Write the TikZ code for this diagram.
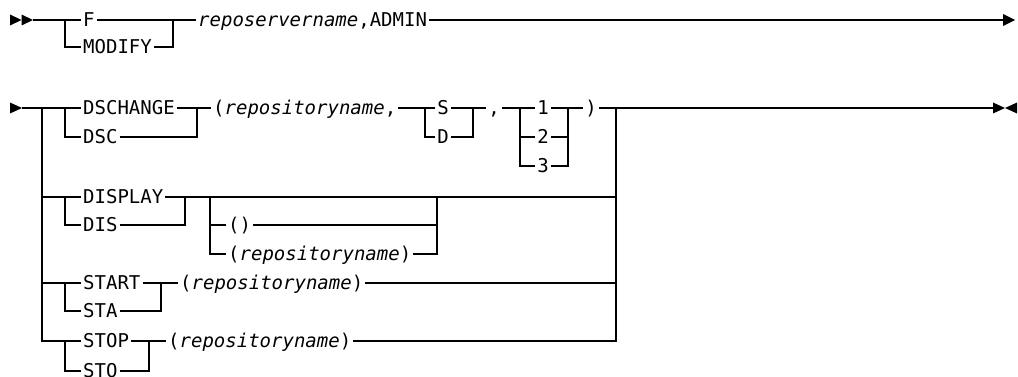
\documentclass[tikz,border=0pt]{standalone}
\usepackage{fontspec}
\setmainfont{DejaVu Sans Mono}
\begin{document}
\begin{tikzpicture}[x=1pt,y=-1pt,
  rr/.style={line width=1.1pt},
  kw/.style={anchor=west, inner xsep=2pt, inner ysep=0pt, text height=13.85pt, text depth=0pt, font=\fontsize{19}{22}\selectfont},
  kc/.style={kw, anchor=center},
  tipfill/.style={fill=black}]
\useasboundingbox (0,0) rectangle (1018,377);
% ---------- row 1 ----------
\fill[tipfill] (10,14.5) -- (21.5,20) -- (10,25.5) -- cycle;
\fill[tipfill] (21.5,14.5) -- (33,20) -- (21.5,25.5) -- cycle;
\coordinate (s1) at (33,20);
\coordinate (j1a) at (65,20);
\coordinate (j1b) at (65,47);
\coordinate (j1c) at (173,20);
\coordinate (j1d) at (173,47);
\coordinate (e1) at (1003,20);
\node[kw] (F) at (81,20) {F};
\node[kw] (MOD) at (81,47) {MODIFY};
\node[kw] (rsv) at (196,20) {\textit{reposervername},ADMIN};
\draw[rr] (s1) -- (j1a) -- (F) -- (j1c) -- (rsv) -- (e1);
\draw[rr] (j1a) -- (j1b) -- (MOD) -- (j1d) -- (j1c);
\fill[tipfill] (1003,14) -- (1015,20) -- (1003,26) -- cycle;
% ---------- row 2 ----------
\fill[tipfill] (10,102.5) -- (22,108) -- (10,113.5) -- cycle;
\coordinate (s2) at (22,108);
\coordinate (L0) at (42,108);
\coordinate (a1) at (65,108);
\coordinate (a2) at (65,137);
\coordinate (a3) at (197,108);
\coordinate (a4) at (197,137);
\coordinate (b1) at (425,108);
\coordinate (b2) at (425,137);
\coordinate (b3) at (473,108);
\coordinate (b4) at (473,137);
\coordinate (c1) at (520,108);
\coordinate (c2) at (520,137);
\coordinate (c3) at (520,166);
\coordinate (c4) at (568,108);
\coordinate (c5) at (568,137);
\coordinate (c6) at (568,166);
\coordinate (R0) at (616,108);
\coordinate (e2) at (993,108);
\node[kw] (DSCH) at (81,108) {DSCHANGE};
\node[kw] (DSC) at (81,137) {DSC};
\node[kw] (rep1) at (211,108) {(\textit{repositoryname},};
\node[kc] (S) at (443,108) {S};
\node[kc] (D) at (443,137) {D};
\node[kc] (cm) at (494,108) {,};
\node[kc] (n1) at (543,108) {1};
\node[kc] (n2) at (543,137) {2};
\node[kc] (n3) at (543,166) {3};
\node[kc] (rp) at (591,108) {)};
\draw[rr] (s2) -- (L0) -- (a1) -- (DSCH) -- (a3) -- (rep1) -- (b1) -- (S) -- (b3) -- (cm) -- (c1) -- (n1) -- (c4) -- (rp) -- (R0) -- (e2);
\draw[rr] (a1) -- (a2) -- (DSC) -- (a4) -- (a3);
\draw[rr] (b1) -- (b2) -- (D) -- (b4) -- (b3);
\draw[rr] (c1) -- (c3) -- (n3) -- (c6) -- (c4);
\draw[rr] (c2) -- (n2) -- (c5);
\fill[tipfill] (993,102.5) -- (1005,108) -- (993,113.5) -- cycle;
\fill[tipfill] (1017,102.5) -- (1005,108) -- (1017,113.5) -- cycle;
% ---------- DISPLAY ----------
\coordinate (d1) at (42,197);
\coordinate (d2) at (65,197);
\coordinate (d3) at (65,225);
\coordinate (d4) at (185,197);
\coordinate (d5) at (185,225);
\coordinate (d6) at (210,197);
\coordinate (d7) at (210,225);
\coordinate (d8) at (210,254);
\coordinate (d9) at (437,197);
\coordinate (d10) at (437,225);
\coordinate (d11) at (437,254);
\coordinate (R1) at (616,197);
\node[kw] (DISP) at (81,197) {DISPLAY};
\node[kw] (DIS) at (81,225) {DIS};
\node[kw] (emp) at (226,225) {()};
\node[kw] (rn2) at (226,254) {(\textit{repositoryname})};
\draw[rr] (d1) -- (d2) -- (DISP) -- (d4) -- (d6) -- (d9) -- (R1);
\draw[rr] (d2) -- (d3) -- (DIS) -- (d5) -- (d4);
\draw[rr] (d6) -- (d8) -- (rn2) -- (d11) -- (d9);
\draw[rr] (d7) -- (emp) -- (d10);
% ---------- START ----------
\coordinate (g1) at (42,283);
\coordinate (g2) at (65,283);
\coordinate (g3) at (65,311);
\coordinate (g4) at (161,283);
\coordinate (g5) at (161,311);
\coordinate (R2) at (616,283);
\node[kw] (START) at (81,283) {START};
\node[kw] (STA) at (81,311) {STA};
\node[kw] (rn3) at (178,283) {(\textit{repositoryname})};
\draw[rr] (g1) -- (g2) -- (START) -- (g4) -- (rn3) -- (R2);
\draw[rr] (g2) -- (g3) -- (STA) -- (g5) -- (g4);
% ---------- STOP ----------
\coordinate (h1) at (42,341);
\coordinate (h2) at (65,341);
\coordinate (h3) at (65,371);
\coordinate (h4) at (149,341);
\coordinate (h5) at (149,371);
\coordinate (R3) at (616,341);
\node[kw] (STOP) at (81,341) {STOP};
\node[kw] (STO) at (81,371) {STO};
\node[kw] (rn4) at (166,341) {(\textit{repositoryname})};
\draw[rr] (L0) -- (h1) -- (h2) -- (STOP) -- (h4) -- (rn4) -- (R3) -- (R0);
\draw[rr] (h2) -- (h3) -- (STO) -- (h5) -- (h4);
\end{tikzpicture}
\end{document}
